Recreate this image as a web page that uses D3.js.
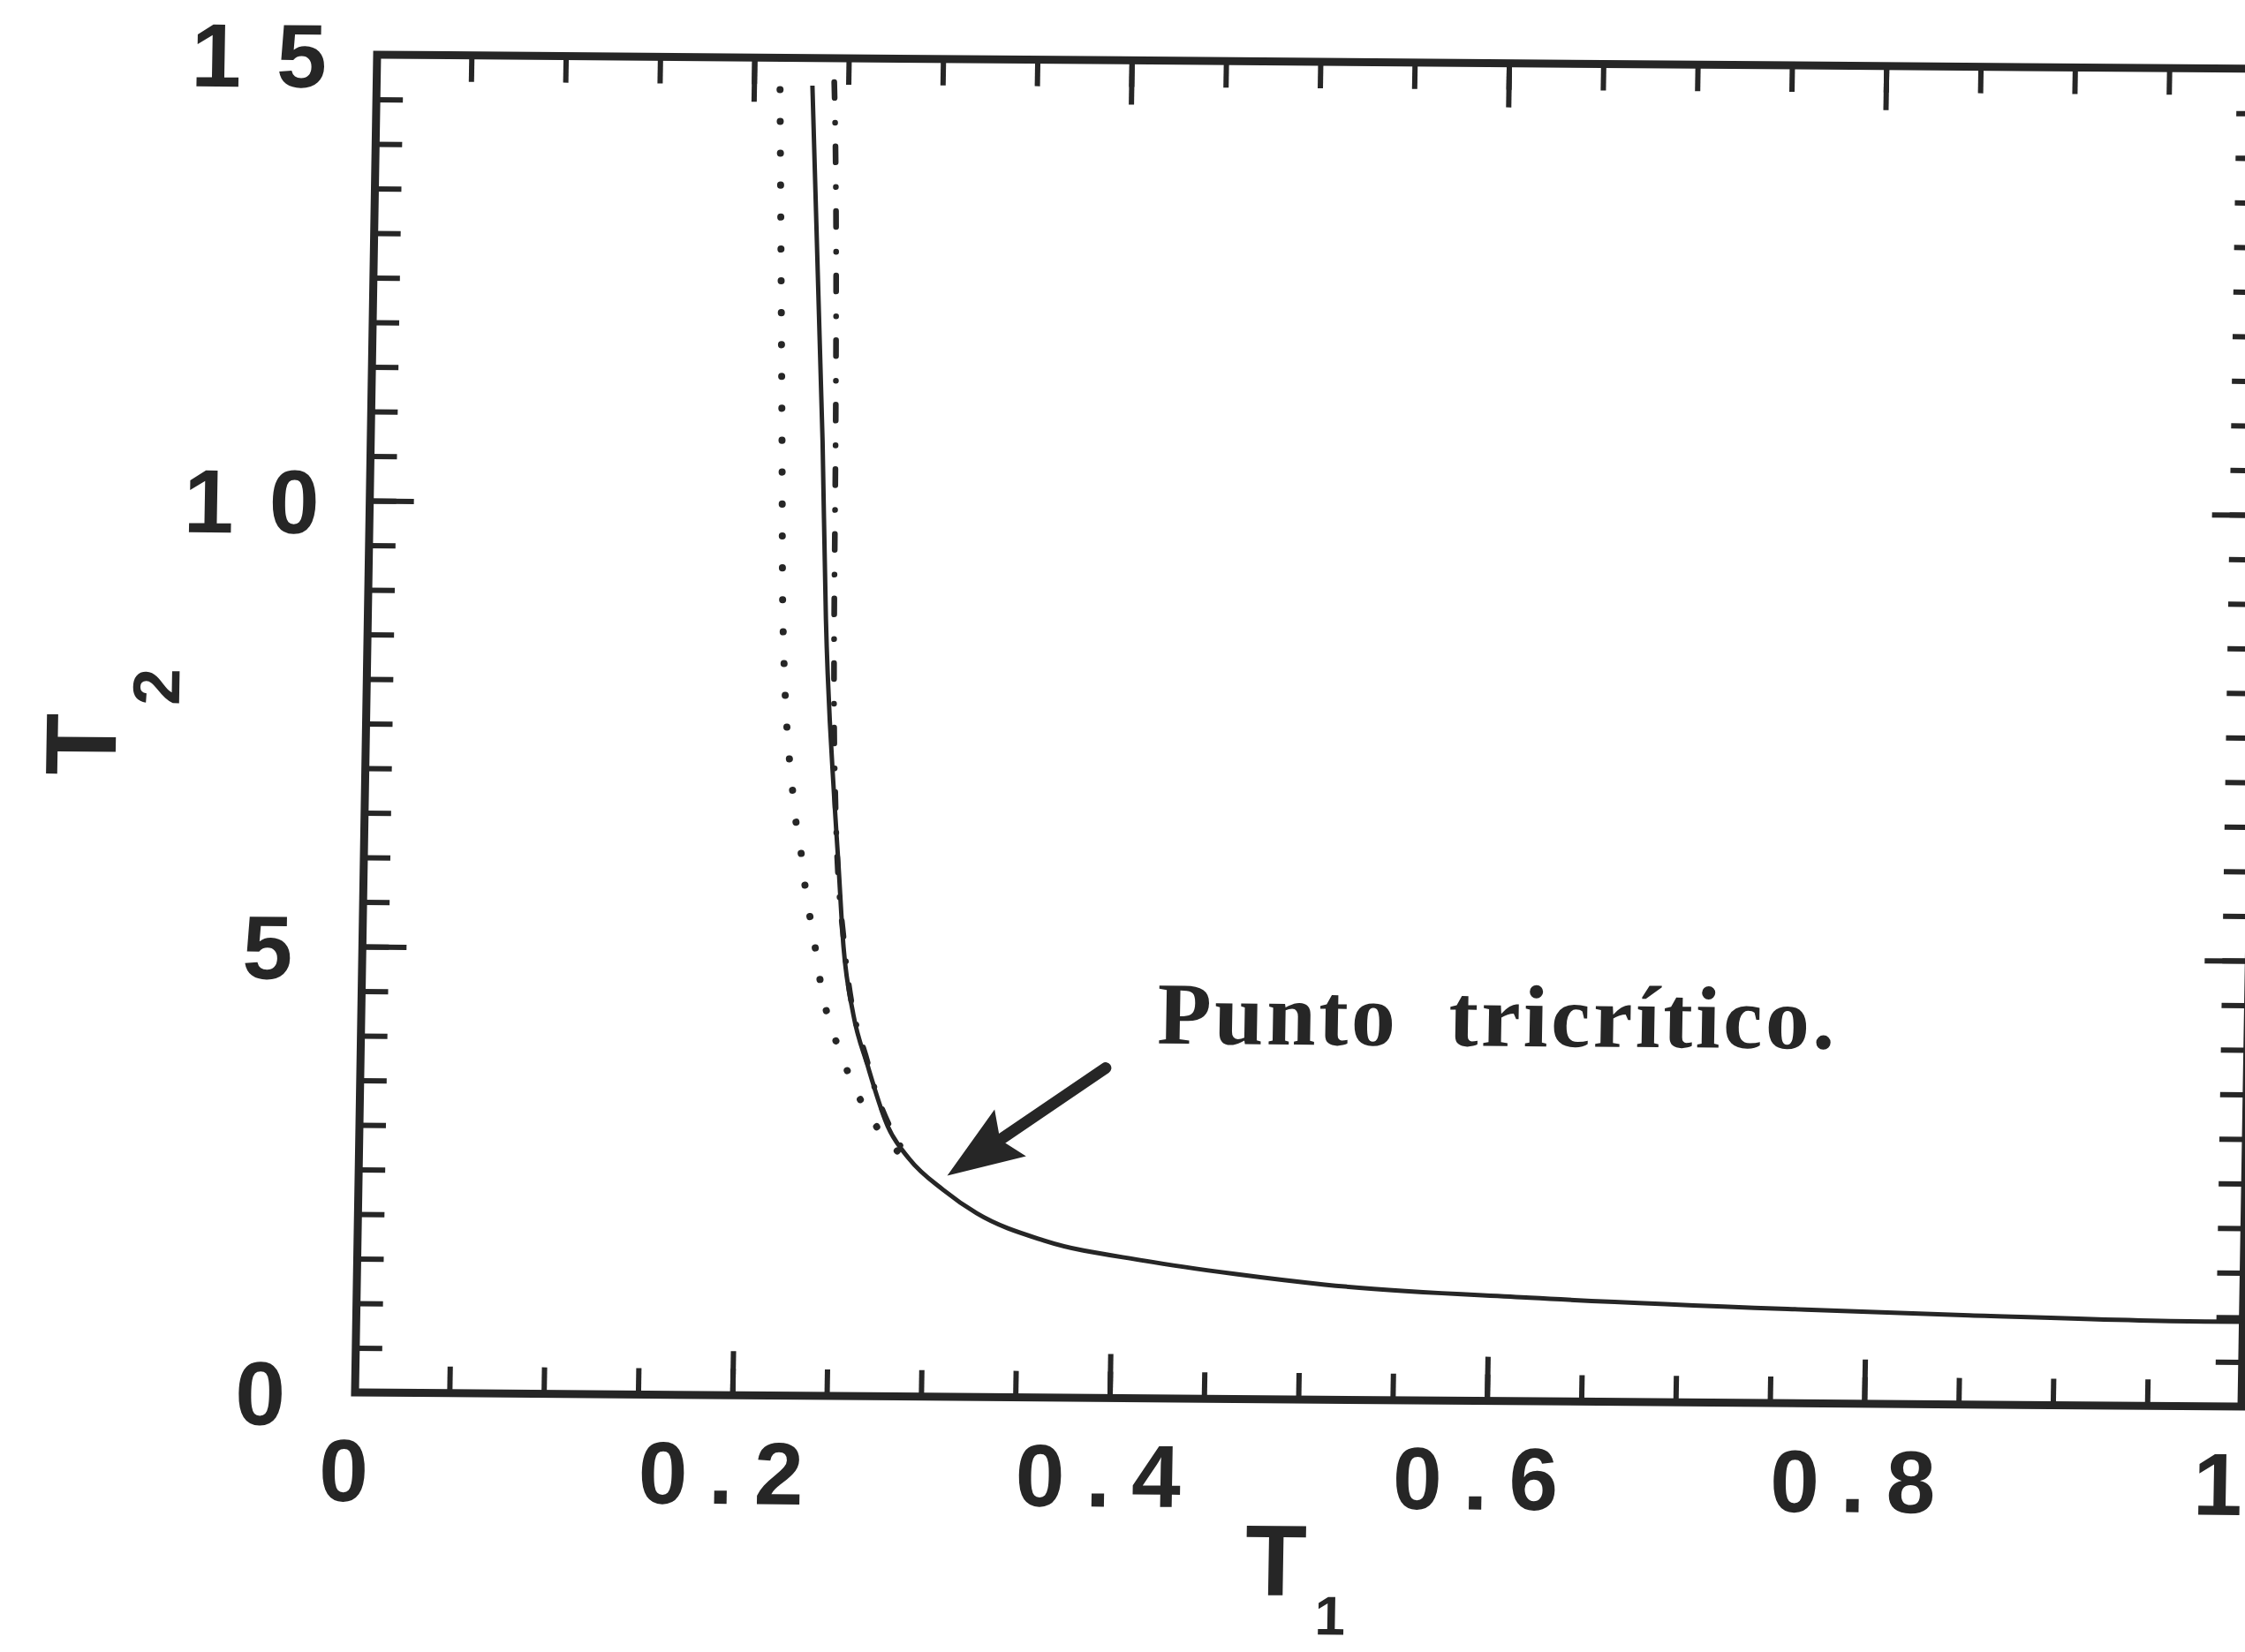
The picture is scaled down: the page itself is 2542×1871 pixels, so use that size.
<!DOCTYPE html>
<html>
<head>
<meta charset="utf-8">
<script src="https://cdn.jsdelivr.net/npm/d3@7"></script>
<style>
  body { margin: 0; background: #ffffff; }
  svg { display: block; }
</style>
</head>
<body>
<div id="chart"></div>
<script>
// axis ticks
const xTickValues = [0, 0.2, 0.4, 0.6, 0.8, 1];
const xTickLabels = ["0", "0.2", "0.4", "0.6", "0.8", "1"];
const yTickValues = [0, 5, 10, 15];
const yTickLabels = ["0", "5", "10", "15"];

// solid line (T1, T2)
const solidT1 = [0.231, 0.2395, 0.2428, 0.2488, 0.2515, 0.2550, 0.2608, 0.2688, 0.2800, 0.2919, 0.310, 0.328, 0.364, 0.418, 0.466, 0.513, 0.622, 0.768, 0.855, 0.980, 1.0];
const solidT2 = [14.69, 10.70, 8.72, 6.70, 5.99, 5.04, 4.28, 3.71, 3.03, 2.66, 2.32, 2.06, 1.76, 1.54, 1.40, 1.29, 1.16, 1.05, 1.00, 0.95, 0.95];

// dotted line
const dottedT1 = [0.2135, 0.218, 0.220, 0.2272, 0.2327, 0.2349, 0.2382, 0.2411, 0.2441, 0.2489, 0.255, 0.2625, 0.2723, 0.2844, 0.2919];
const dottedT2 = [15.0, 10.70, 8.72, 6.68, 5.95, 5.59, 5.25, 4.89, 4.52, 4.16, 3.81, 3.44, 3.08, 2.77, 2.66];

// dash-dot line
const dashDotT1 = [0.242, 0.2464, 0.2472, 0.2494, 0.2555, 0.2692, 0.2919];
const dashDotT2 = [15.0, 10.70, 8.72, 6.70, 5.04, 3.71, 2.66];

// annotation
const noteText = "Punto  tricrítico.";
const notePos = [0.422, 3.98];
const arrowFrom = [0.395, 3.70];
const arrowTo = [0.312, 2.48];

const ink = "#262626";
const margin = { top: 62, left: 427 };
const width = 2136;
const height = 1515;

const svg = d3
  .select("#chart")
  .append("svg")
  .attr("width", 2542)
  .attr("height", 1871)
  .style("background", "#ffffff");

// the scanned figure is slightly skewed
const g = svg
  .append("g")
  .attr("transform", `matrix(1,0.0075,-0.0165,1,${margin.left},${margin.top})`);

const x = d3.scaleLinear().domain([0, 1]).range([0, width]);
const y = d3.scaleLinear().domain([0, 15]).range([height, 0]);

function cleanAxis(sel) {
  sel.select(".domain").remove();
  sel.selectAll(".tick line").attr("stroke", ink).attr("stroke-width", 6);
}

const minorLen = 30;
const majorLen = 50;

// bottom
g.append("g")
  .attr("transform", `translate(0,${height})`)
  .call(d3.axisBottom(x).tickValues(x.ticks(20)).tickSize(-minorLen).tickFormat(""))
  .call(cleanAxis);
const xAxis = g.append("g")
  .attr("transform", `translate(0,${height})`)
  .call(d3.axisBottom(x).tickValues(xTickValues).tickSize(-majorLen).tickPadding(52)
    .tickFormat((d, i) => xTickLabels[i]))
  .call(cleanAxis);
xAxis.selectAll("text")
  .attr("fill", ink)
  .attr("dx", (d, i) => (i === 0 ? -12 : i === xTickLabels.length - 1 ? -26 : 0))
  .style("font-family", "'Liberation Sans', Arial, sans-serif")
  .style("font-weight", "700")
  .style("font-size", "100px")
  .style("letter-spacing", (d, i) => (xTickLabels[i].length > 1 ? "24px" : "0px"));

// top
g.append("g")
  .call(d3.axisTop(x).tickValues(x.ticks(20)).tickSize(-minorLen).tickFormat(""))
  .call(cleanAxis);
g.append("g")
  .call(d3.axisTop(x).tickValues(xTickValues).tickSize(-majorLen).tickFormat(""))
  .call(cleanAxis);

// left
g.append("g")
  .call(d3.axisLeft(y).tickValues(y.ticks(30)).tickSize(-minorLen).tickFormat(""))
  .call(cleanAxis);
const yAxis = g.append("g")
  .call(d3.axisLeft(y).tickValues(yTickValues).tickSize(-majorLen).tickPadding(17)
    .tickFormat((d, i) => yTickLabels[i]))
  .call(cleanAxis);
yAxis.selectAll("text")
  .attr("fill", ink)
  .attr("dy", "0.36em")
  .attr("dx", (d, i) => (yTickLabels[i].length > 1 ? 0 : -22))
  .style("font-family", "'Liberation Sans', Arial, sans-serif")
  .style("font-weight", "700")
  .style("font-size", "102px")
  .style("letter-spacing", "40px");

// right
g.append("g")
  .attr("transform", `translate(${width},0)`)
  .call(d3.axisRight(y).tickValues(y.ticks(30)).tickSize(-minorLen).tickFormat(""))
  .call(cleanAxis);
g.append("g")
  .attr("transform", `translate(${width},0)`)
  .call(d3.axisRight(y).tickValues(yTickValues).tickSize(-majorLen).tickFormat(""))
  .call(cleanAxis);

// frame
g.append("rect")
  .attr("x", 0)
  .attr("y", 0)
  .attr("width", width)
  .attr("height", height)
  .attr("fill", "none")
  .attr("stroke", ink)
  .attr("stroke-width", 9);

// curves
const line = d3
  .line()
  .x((d) => x(d[0]))
  .y((d) => y(d[1]))
  .curve(d3.curveMonotoneX);

g.append("path")
  .datum(dottedT1.map((v, i) => [v, dottedT2[i]]))
  .attr("d", line)
  .attr("fill", "none")
  .attr("stroke", ink)
  .attr("stroke-width", 8)
  .attr("stroke-linecap", "round")
  .attr("stroke-dasharray", "0.1 36");

g.append("path")
  .datum(dashDotT1.map((v, i) => [v, dashDotT2[i]]))
  .attr("d", line)
  .attr("fill", "none")
  .attr("stroke", ink)
  .attr("stroke-width", 6.5)
  .attr("stroke-linecap", "round")
  .attr("stroke-dasharray", "0.1 27 18 28");

g.append("path")
  .datum(solidT1.map((v, i) => [v, solidT2[i]]))
  .attr("d", line)
  .attr("fill", "none")
  .attr("stroke", ink)
  .attr("stroke-width", 5);

// arrow
const tip = [x(arrowTo[0]), y(arrowTo[1])];
const tail = [x(arrowFrom[0]), y(arrowFrom[1])];
const len = Math.hypot(tail[0] - tip[0], tail[1] - tip[1]);
const ux = (tail[0] - tip[0]) / len;
const uy = (tail[1] - tip[1]) / len;
const headLen = 86;
const headHalf = 32;
const notch = 14;
g.append("line")
  .attr("x1", tail[0])
  .attr("y1", tail[1])
  .attr("x2", tip[0] + ux * (headLen - notch))
  .attr("y2", tip[1] + uy * (headLen - notch))
  .attr("stroke", ink)
  .attr("stroke-width", 13)
  .attr("stroke-linecap", "round");
g.append("path")
  .attr("d", [
    "M", tip[0], tip[1],
    "L", tip[0] + ux * headLen - uy * headHalf, tip[1] + uy * headLen + ux * headHalf,
    "L", tip[0] + ux * (headLen - notch), tip[1] + uy * (headLen - notch),
    "L", tip[0] + ux * headLen + uy * headHalf, tip[1] + uy * headLen - ux * headHalf,
    "Z"
  ].join(" "))
  .attr("fill", ink);

g.append("text")
  .attr("x", x(notePos[0]))
  .attr("y", y(notePos[1]))
  .attr("textLength", 767)
  .attr("lengthAdjust", "spacing")
  .attr("fill", ink)
  .style("white-space", "pre")
  .style("font-family", "'Liberation Serif', 'Times New Roman', serif")
  .style("font-weight", "700")
  .style("font-size", "100px")
  .text(noteText);

// axis titles
const xTitle = g.append("text")
  .attr("x", x(0.5))
  .attr("y", height + 222)
  .attr("text-anchor", "middle")
  .attr("fill", ink)
  .style("font-family", "'Liberation Sans', Arial, sans-serif")
  .style("font-weight", "700")
  .style("font-size", "114px");
xTitle.append("tspan").text("T");
xTitle.append("tspan").attr("dx", 10).attr("dy", 44).style("font-size", "62px").text("1");

const yTitle = g.append("text")
  .attr("transform", `translate(-283,${height / 2}) rotate(-90)`)
  .attr("text-anchor", "middle")
  .attr("fill", ink)
  .style("font-family", "'Liberation Sans', Arial, sans-serif")
  .style("font-weight", "700")
  .style("font-size", "114px");
yTitle.append("tspan").text("T");
yTitle.append("tspan").attr("dx", 10).attr("dy", 71).style("font-size", "75px").text("2");
</script>
</body>
</html>
